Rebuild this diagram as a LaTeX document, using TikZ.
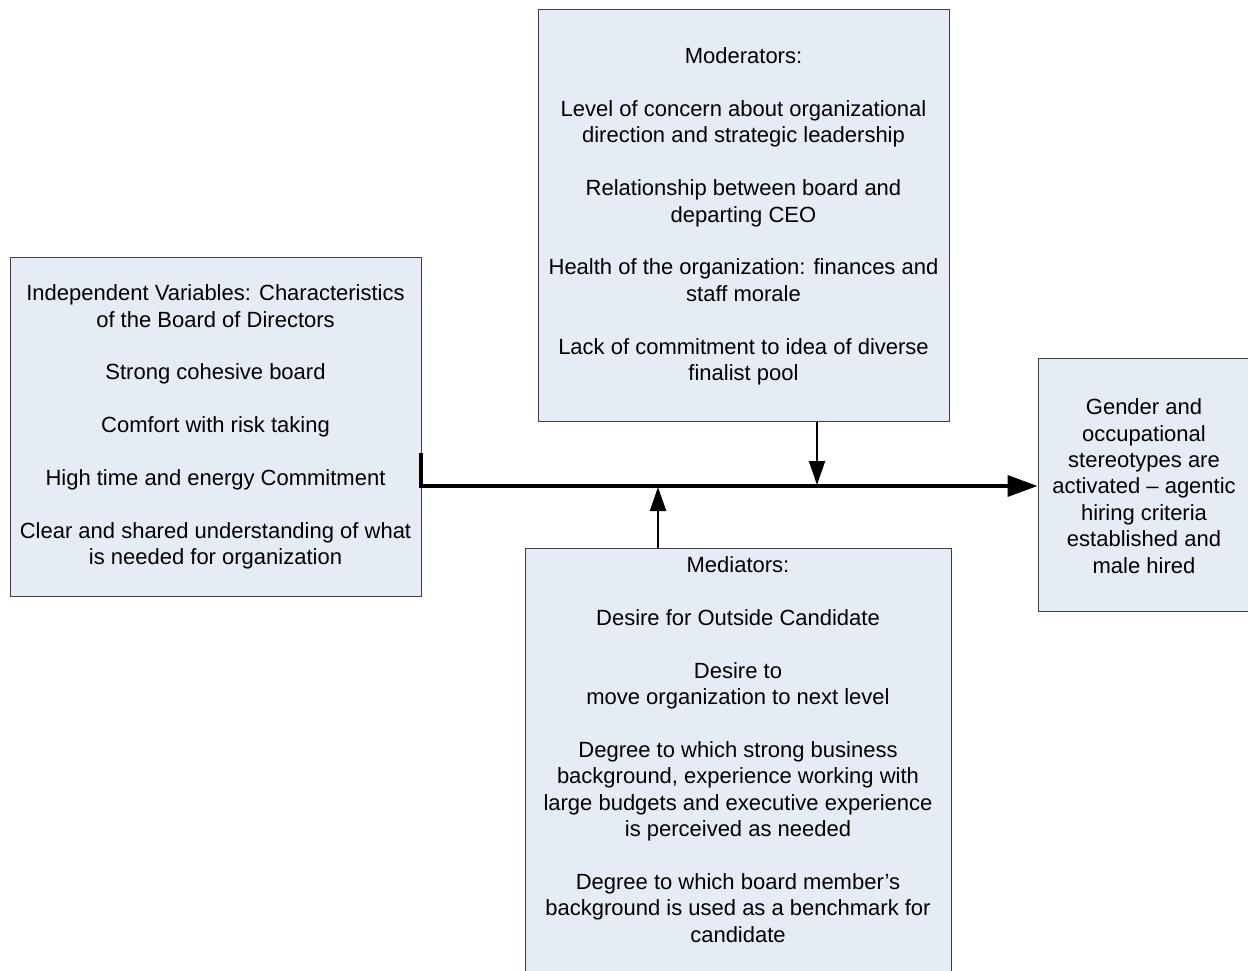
\documentclass[tikz,border=0pt]{standalone}
\usepackage{fontspec}
\setmainfont{Liberation Sans}
\usetikzlibrary{arrows.meta}
\definecolor{boxfill}{RGB}{230,236,246}
\definecolor{boxline}{RGB}{64,64,64}
\tikzset{
  box/.style={draw=boxline, fill=boxfill, line width=1pt, inner sep=0pt},
  txt/.style={align=center, inner sep=0pt, font=\fontsize{22}{26.4}\selectfont},
  mainarrow/.style={line width=3.6pt, -{Triangle[length=30pt,width=21pt]}},
  sidearrow/.style={line width=2pt, -{Triangle[length=24pt,width=16pt]}}
}
\begin{document}
\begin{tikzpicture}[x=1pt,y=-1pt]
\useasboundingbox (0,0) rectangle (1248,971);
% boxes
\node[box, minimum width=411pt, minimum height=339pt] (iv) at (215.5,426.5) {};
\node[box, minimum width=411pt, minimum height=411pt] (mod) at (743.5,215.5) {};
\node[box, minimum width=426pt, minimum height=430pt] (med) at (738,763) {};
\node[box, minimum width=214pt, minimum height=253pt] (out) at (1145,484.5) {};
% texts
\node[txt] (ivt) at (215.5,427) {Independent Variables: Characteristics\\of the Board of Directors\\[26.4pt]Strong cohesive board\\[26.4pt]Comfort with risk taking\\[26.4pt]High time and energy Commitment\\[26.4pt]Clear and shared understanding of what\\is needed for organization};
\node[txt] (modt) at (743.5,216.5) {Moderators:\\[26.4pt]Level of concern about organizational\\direction and strategic leadership\\[26.4pt]Relationship between board and\\departing CEO\\[26.4pt]Health of the organization: finances and\\staff morale\\[26.4pt]Lack of commitment to idea of diverse\\finalist pool};
\node[txt] (medt) at (738,749.5) {Mediators:\\[26.4pt]Desire for Outside Candidate\\[26.4pt]Desire to\\move organization to next level\\[26.4pt]Degree to which strong business\\background, experience working with\\large budgets and executive experience\\is perceived as needed\\[26.4pt]Degree to which board member’s\\background is used as a benchmark for\\candidate};
\node[txt] (outt) at (1144,486) {Gender and\\occupational\\stereotypes are\\activated – agentic\\hiring criteria\\established and\\male hired};
% connectors
\coordinate (s) at (421,453);
\coordinate (j) at (421,486);
\draw[mainarrow] (s) -- (j) -- (j -| out.west);
\coordinate (medtip) at (658,487);
\coordinate (modtip) at (817,485);
\draw[sidearrow] (med.north -| medtip) -- (medtip);
\draw[sidearrow] (mod.south -| modtip) -- (modtip);
\end{tikzpicture}
\end{document}
